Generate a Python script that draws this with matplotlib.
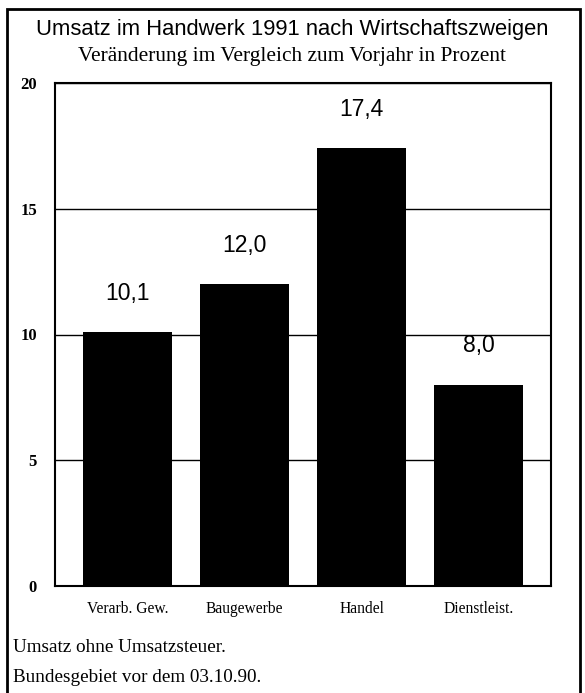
import matplotlib
matplotlib.use("Agg")
import matplotlib.pyplot as plt
from matplotlib.patches import Rectangle

categories = ["Verarb. Gew.", "Baugewerbe", "Handel", "Dienstleist."]
values = [10.1, 12.0, 17.4, 8.0]
value_labels = ["10,1", "12,0", "17,4", "8,0"]
yticks = [0, 5, 10, 15, 20]

W, H = 585, 693
fig = plt.figure(figsize=(W / 100, H / 100), dpi=100)
fig.patch.set_facecolor("white")

# outer frame
fig.patches.append(Rectangle((7 / W, -0.05), 573 / W, 1 - 9 / H + 0.05,
                             transform=fig.transFigure, fill=False,
                             edgecolor="black", linewidth=2.0))

left, right, top, bottom = 55, 551, 83, 586
ax = fig.add_axes([left / W, 1 - bottom / H, (right - left) / W, (bottom - top) / H])

x = list(range(len(categories)))
ax.bar(x, values, width=0.76, color="black", zorder=3)
ax.set_xlim(-0.62, 3.62)
ax.set_ylim(0, 20)
ax.set_yticks(yticks)
ax.set_yticklabels([str(v) for v in yticks], fontfamily="Liberation Serif",
                   fontsize=12, fontweight="bold")
ax.set_xticks(x)
ax.set_xticklabels(categories, fontfamily="Liberation Serif", fontsize=11.2)
ax.tick_params(axis="y", length=0, pad=13)
ax.tick_params(axis="x", length=0, pad=11)
ax.grid(axis="y", color="black", linewidth=1.0, zorder=1)
for s in ax.spines.values():
    s.set_linewidth(1.5)
    s.set_color("black")

for xi, v, lab in zip(x, values, value_labels):
    ax.annotate(lab, (xi, v), xytext=(0, 28), textcoords="offset points",
                ha="center", va="center", fontsize=16.5,
                fontfamily="Liberation Sans")

fig.text(0.5, 1 - 30 / H, "Umsatz im Handwerk 1991 nach Wirtschaftszweigen",
         ha="center", va="center", fontsize=15.8, fontfamily="Liberation Sans")
fig.text(0.5, 1 - 57 / H, "Veränderung im Vergleich zum Vorjahr in Prozent",
         ha="center", va="center", fontsize=15.4, fontfamily="Liberation Serif")

fig.text(13 / W, 1 - 647 / H, "Umsatz ohne Umsatzsteuer.",
         ha="left", va="center", fontsize=13.8, fontfamily="Liberation Serif")
fig.text(13 / W, 1 - 677 / H, "Bundesgebiet vor dem 03.10.90.",
         ha="left", va="center", fontsize=13.8, fontfamily="Liberation Serif")

fig.savefig("out.png", dpi=100, facecolor="white")
